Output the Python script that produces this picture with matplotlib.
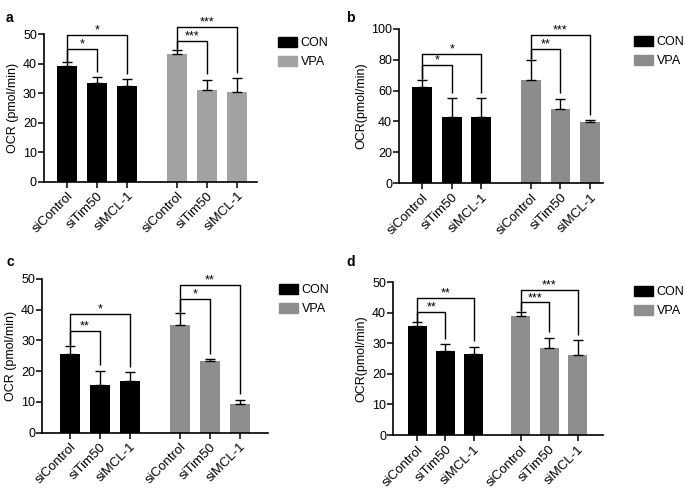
import matplotlib
matplotlib.use('Agg')
import matplotlib.pyplot as plt
from matplotlib.patches import Patch

plt.rcParams['font.family'] = ['Liberation Sans', 'DejaVu Sans']

groups = ['siControl', 'siTim50', 'siMCL-1']
positions = [0, 1, 2, 3.67, 4.67, 5.67]

# panel a
a_con = [39.3, 33.5, 32.5]
a_con_err = [1.1, 2.0, 2.2]
a_vpa = [43.2, 31.2, 30.5]
a_vpa_err = [1.4, 3.4, 4.7]
a_con_sig = [(45.1, '*'), (49.7, '*')]
a_vpa_sig = [(47.7, '***'), (52.3, '***')]

# panel b
b_con = [62.5, 43.0, 43.0]
b_con_err = [4.4, 12.0, 12.0]
b_vpa = [66.7, 48.3, 39.6]
b_vpa_err = [13.0, 6.5, 1.1]
b_con_sig = [(76.6, '*'), (83.8, '*')]
b_vpa_sig = [(87.2, '**'), (95.9, '***')]

# panel c
c_con = [25.5, 15.5, 16.7]
c_con_err = [2.8, 4.7, 3.0]
c_vpa = [35.0, 23.2, 9.2]
c_vpa_err = [4.0, 0.8, 1.5]
c_con_sig = [(33.2, '**'), (38.5, '*')]
c_vpa_sig = [(43.4, '*'), (48.0, '**')]

# panel d
d_con = [35.8, 27.6, 26.5]
d_con_err = [1.1, 2.1, 2.4]
d_vpa = [38.9, 28.4, 26.2]
d_vpa_err = [1.3, 3.5, 4.8]
d_con_sig = [(40.4, '**'), (44.8, '**')]
d_vpa_sig = [(43.4, '***'), (47.5, '***')]

panels = [
    dict(letter='a', con=a_con, con_err=a_con_err, vpa=a_vpa, vpa_err=a_vpa_err,
         con_sig=a_con_sig, vpa_sig=a_vpa_sig, ymax=50, step=10, gray='#a2a2a2',
         ylabel='OCR (pmol/min)', rect=[0.064, 0.628, 0.311, 0.302], xlim=(-0.77, 6.33),
         leg=(278, 37), lab=(6, 18)),
    dict(letter='b', con=b_con, con_err=b_con_err, vpa=b_vpa, vpa_err=b_vpa_err,
         con_sig=b_con_sig, vpa_sig=b_vpa_sig, ymax=100, step=20, gray='#8c8c8c',
         ylabel='OCR(pmol/min)', rect=[0.5825, 0.625, 0.298, 0.3156], xlim=(-0.78, 6.11),
         leg=(634, 36), lab=(346, 18)),
    dict(letter='c', con=c_con, con_err=c_con_err, vpa=c_vpa, vpa_err=c_vpa_err,
         con_sig=c_con_sig, vpa_sig=c_vpa_sig, ymax=50, step=10, gray='#8e8e8e',
         ylabel='OCR (pmol/min)', rect=[0.0613, 0.1133, 0.33, 0.315], xlim=(-0.93, 6.62),
         leg=(279, 284), lab=(6, 262)),
    dict(letter='d', con=d_con, con_err=d_con_err, vpa=d_vpa, vpa_err=d_vpa_err,
         con_sig=d_con_sig, vpa_sig=d_vpa_sig, ymax=50, step=10, gray='#8e8e8e',
         ylabel='OCR(pmol/min)', rect=[0.5737, 0.1086, 0.3066, 0.313], xlim=(-0.85, 6.57),
         leg=(634, 286), lab=(346, 262)),
]

W, H = 685, 488
fig = plt.figure(figsize=(W / 100, H / 100), dpi=100)


def bracket(ax, x0, x1, y0, y1, h, text, fs):
    ax.plot([x0, x0, x1, x1], [y0, h, h, y1], color='black', lw=1.0,
            clip_on=False, solid_capstyle='butt')
    ax.text((x0 + x1) / 2, h - 0.01 * ax.get_ylim()[1], text, ha='center', va='bottom',
            fontsize=fs)


for p in panels:
    ax = fig.add_axes(p['rect'])
    ymax = p['ymax']
    ax.set_ylim(0, ymax)
    vals = p['con'] + p['vpa']
    errs = p['con_err'] + p['vpa_err']
    colors = ['black'] * 3 + [p['gray']] * 3
    ax.bar(positions, vals, width=0.67, color=colors)
    ax.errorbar(positions, vals, yerr=[[0] * 6, errs], fmt='none', ecolor='black',
                elinewidth=1.0, capsize=3.5, capthick=1.0)

    gap = 0.035 * ymax
    tops = [v + e for v, e in zip(vals, errs)]
    for base, sig in ((0, p['con_sig']), (3, p['vpa_sig'])):
        for k, (h, txt) in enumerate(sig):
            bracket(ax, positions[base], positions[base + k + 1],
                    tops[base] + 0.005 * ymax, tops[base + k + 1] + gap, h, txt, 9)

    ax.set_xlim(*p['xlim'])
    ax.set_yticks(range(0, ymax + 1, p['step']))
    ax.set_xticks(positions)
    ax.set_xticklabels(groups * 2, rotation=45, ha='right', rotation_mode='anchor',
                       fontsize=9.5)
    ax.tick_params(axis='y', labelsize=9, length=4, width=1.1, pad=1)
    ax.tick_params(axis='x', length=4, width=1.1, pad=2)
    for s in ('top', 'right'):
        ax.spines[s].set_visible(False)
    for s in ('left', 'bottom'):
        ax.spines[s].set_linewidth(1.2)
    ax.set_ylabel(p['ylabel'], fontsize=9, labelpad=3)

    handles = [Patch(color='black', label='CON'), Patch(color=p['gray'], label='VPA')]
    lx, ly = p['leg']
    ax.legend(handles=handles, loc='upper left', bbox_to_anchor=(lx / W, 1 - ly / H),
              bbox_transform=fig.transFigure, frameon=False, fontsize=9,
              borderpad=0, borderaxespad=0, handlelength=1.5, handleheight=0.8,
              handletextpad=0.3, labelspacing=0.55)

    fig.text(p['lab'][0] / W, 1 - p['lab'][1] / H, p['letter'], fontsize=10,
             fontweight='bold', va='center', ha='left')

fig.savefig('out.png', dpi=100)
